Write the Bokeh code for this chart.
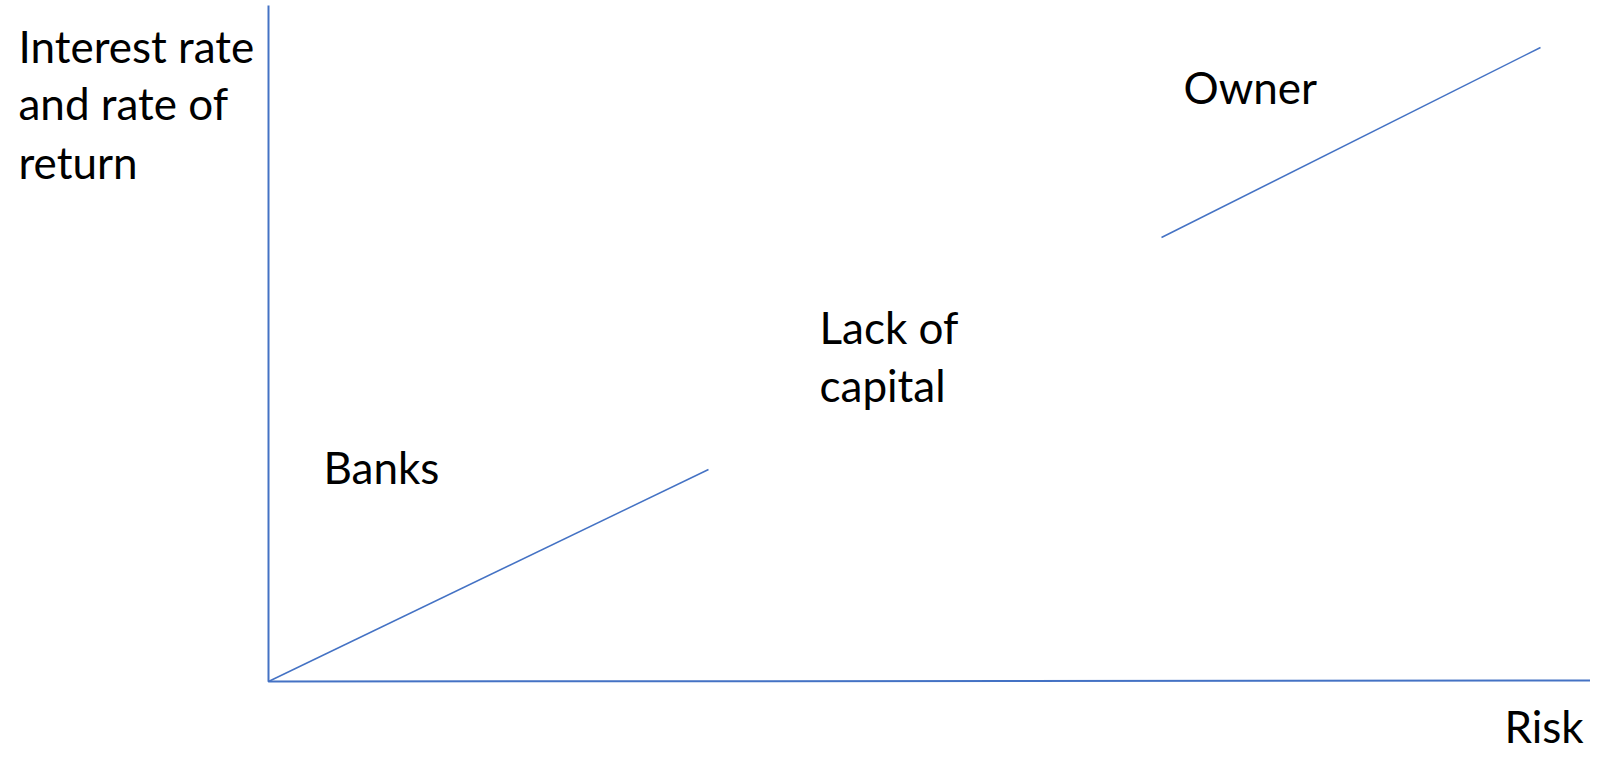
from bokeh.plotting import figure
from bokeh.models import Range1d
from bokeh.core.properties import value
from bokeh.embed import file_html
from bokeh.resources import INLINE

# Diagram values (data units: origin at the axes' corner, y up)
axis_x = [0, 0, 1338]
axis_y = [676, 0, 1]
banks_x = [0, 440]
banks_y = [0, 212]
owner_x = [893, 1272]
owner_y = [444, 634]

labels = ["Interest rate", "and rate of", "return", "Owner", "Lack of", "capital", "Banks", "Risk"]
label_x = [-250, -250, -250, 915, 551, 551, 55, 1236]
label_y = [636, 579, 520, 595, 355, 297, 215, -44]

BLUE = "#4472C4"

p = figure(width=1590, height=757, output_backend="svg", toolbar_location=None,
           x_range=Range1d(-268, 1322), y_range=Range1d(-76, 681),
           min_border=0, outline_line_color=None)
p.axis.visible = False
p.grid.visible = False

p.line(axis_x, axis_y, line_color=BLUE, line_width=2)
p.line(banks_x, banks_y, line_color=BLUE, line_width=1.5)
p.line(owner_x, owner_y, line_color=BLUE, line_width=1.5)

p.text(x=label_x, y=label_y, text=labels, text_font=value("Lato"),
       text_font_size="44px", text_color="black", text_baseline="alphabetic",
       text_align="left")

open("out.html", "w").write(file_html(p, INLINE))
